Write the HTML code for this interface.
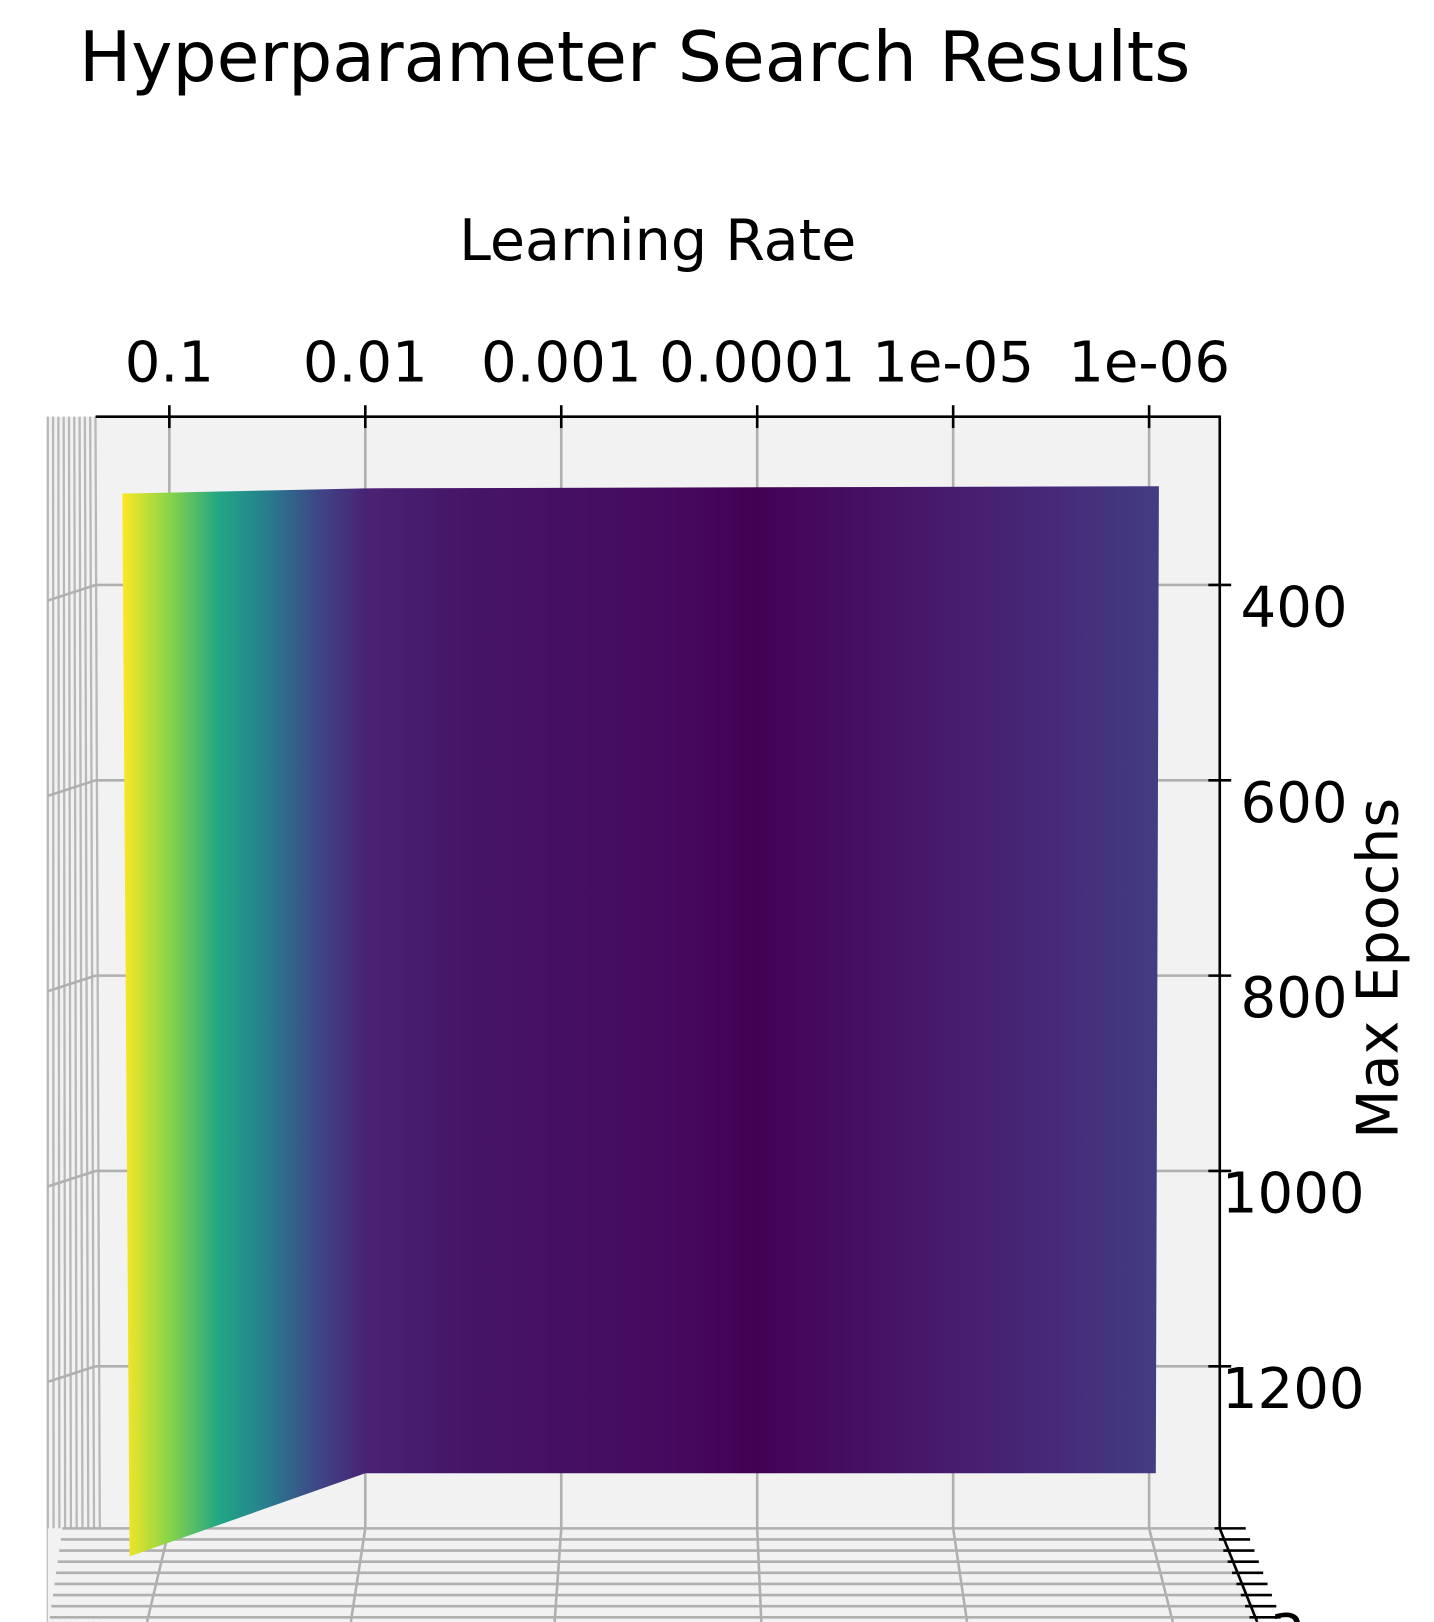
<!DOCTYPE html>
<html><head><meta charset="utf-8"><style>
html,body{margin:0;padding:0;background:#fff;}
svg{display:block;font-family:"DejaVu Sans","Liberation Sans",sans-serif;}
</style></head><body>
<svg id="chart" width="1434" height="1622" viewBox="0 0 1380.2 1561.1" xmlns="http://www.w3.org/2000/svg">
<defs><linearGradient id="surfGrad" x1="118" y1="0" x2="1115" y2="0" gradientUnits="userSpaceOnUse"></linearGradient></defs>
<text x="76" y="78" font-size="67" fill="#000">Hyperparameter Search Results</text>
<text x="633" y="250" font-size="55" text-anchor="middle" fill="#000">Learning Rate</text>
<text transform="translate(1345,932) rotate(-90)" font-size="55" text-anchor="middle" fill="#000">Max Epochs</text>
<g id="walls"></g>
<g id="surface"></g>
<g id="axes"></g>
</svg>
<script>
const lrTickLabels = ['0.1','0.01','0.001','0.0001','1e-05','1e-06'];
const lrTickLogs = [-1,-2,-3,-4,-5,-6];
const epochTickLabels = ['400','600','800','1000','1200'];
const epochTickValues = [400,600,800,1000,1200];
const gridLogLr = [-0.76,-1,-1.25,-1.5,-1.75,-2,-2.25,-2.5,-3,-3.5,-4,-4.5,-5,-5.5,-6.05];
const gridScore = [1.0,0.82,0.6,0.42,0.22,0.1,0.08,0.06,0.045,0.03,0.0,0.04,0.08,0.12,0.18];

const NS='http://www.w3.org/2000/svg';
const svg=document.getElementById('chart');
const xOf = l => 163 + (-1 - l) * 188.6;
const yOf = e => 563 + (e - 400) / 200 * 188;
function mk(tag, attrs, parent){const el=document.createElementNS(NS,tag);for(const k in attrs)el.setAttribute(k,attrs[k]);parent.appendChild(el);return el;}
const vir=[[68,1,84],[72,35,116],[64,67,135],[52,94,141],[41,120,142],[32,144,140],[34,167,132],[68,190,112],[121,209,81],[189,222,38],[253,231,37]];
function viridis(t){t=Math.max(0,Math.min(1,t))*10;const i=Math.min(9,Math.floor(t)),f=t-i;const a=vir[i],b=vir[i+1];return 'rgb('+a.map((v,k)=>Math.round(v+(b[k]-v)*f)).join(',')+')';}

const walls=document.getElementById('walls');
const panel=mk('rect',{x:92,y:401,width:1082,height:1070,fill:'#f2f2f2'},walls);


mk('polygon',{points:'46,401 92,401 92,1471 46,1561',fill:'#f2f2f2'},walls);
for(let i=0;i<10;i++){const x=46+i*5.1;mk('line',{x1:x,y1:401,x2:x+(i*0.5),y2:1561,stroke:'#b8b8b8','stroke-width':2.2},walls);}
mk('polygon',{points:'46,1471 1174,1471 1215,1561 46,1561',fill:'#f2f2f2'},walls);
for(let i=0;i<9;i++){const y=1471+i*10.7;mk('line',{x1:60-i*1.5,y1:y,x2:1174+i*4.5,y2:y,stroke:'#b0b0b0','stroke-width':2.5},walls);}
lrTickLogs.forEach(l=>{const x=xOf(l);
  const g=mk('line',{x1:x,y1:401,x2:x,y2:1471,stroke:'#b0b0b0','stroke-width':2.5},walls);
  
  
  mk('line',{x1:x,y1:1471,x2:x-(x<650?(650-x)*0.04+2:-(x-650)*0.05),y2:1561,stroke:'#b0b0b0','stroke-width':2.5},walls);
});
epochTickValues.forEach(e=>{const y=yOf(e);
  const g=mk('line',{x1:92,y1:y,x2:1174,y2:y,stroke:'#b0b0b0','stroke-width':2.5},walls);
  
  
  mk('line',{x1:46,y1:y+15,x2:92,y2:y,stroke:'#b0b0b0','stroke-width':2.5},walls);
});

const grad=svg.querySelector('#surfGrad');
gridLogLr.forEach((l,i)=>{mk('stop',{offset:((xOf(l)-118)/(1115-118)).toFixed(4),'stop-color':viridis(gridScore[i])},grad);});
const surf=document.getElementById('surface');
const x0=xOf(gridLogLr[0]), x1=xOf(gridLogLr[gridLogLr.length-1]);
const poly=mk('polygon',{points:`${x0},475 ${xOf(-2)},470 ${x1},468 ${x1-3},1418 ${xOf(-2)},1418 ${x0+7},1498`,fill:'url(#surfGrad)'},surf);



const axes=document.getElementById('axes');
mk('line',{x1:92,y1:401,x2:1175,y2:401,stroke:'#000','stroke-width':2.5},axes);
mk('line',{x1:1174,y1:400,x2:1174,y2:1471,stroke:'#000','stroke-width':2.5},axes);
mk('line',{x1:1174,y1:1471,x2:1210,y2:1561,stroke:'#000','stroke-width':2.5},axes);
for(let i=0;i<9;i++){const y=1471+i*10.7,x=1174+i*4.2;mk('line',{x1:x-5,y1:y,x2:x+25,y2:y,stroke:'#000','stroke-width':2.5},axes);}
lrTickLogs.forEach((l,i)=>{const x=xOf(l);
  mk('line',{x1:x,y1:390,x2:x,y2:412,stroke:'#000','stroke-width':2.5},axes);
  const t=mk('text',{x:x,y:367,'font-size':54,'text-anchor':'middle',fill:'#000'},axes);
  t.textContent=lrTickLabels[i];
  
  
});
epochTickValues.forEach((e,i)=>{const y=yOf(e);
  mk('line',{x1:1163,y1:y,x2:1185,y2:y,stroke:'#000','stroke-width':2.5},axes);
  const t=mk('text',{x:epochTickLabels[i].length>3?1176:1194,y:y+40,'font-size':54,fill:'#000'},axes);
  t.textContent=epochTickLabels[i];
  
  
});
const zt=mk('text',{x:1222,y:1592,'font-size':54,fill:'#000'},axes);
zt.textContent='3';


</script>
</body></html>
